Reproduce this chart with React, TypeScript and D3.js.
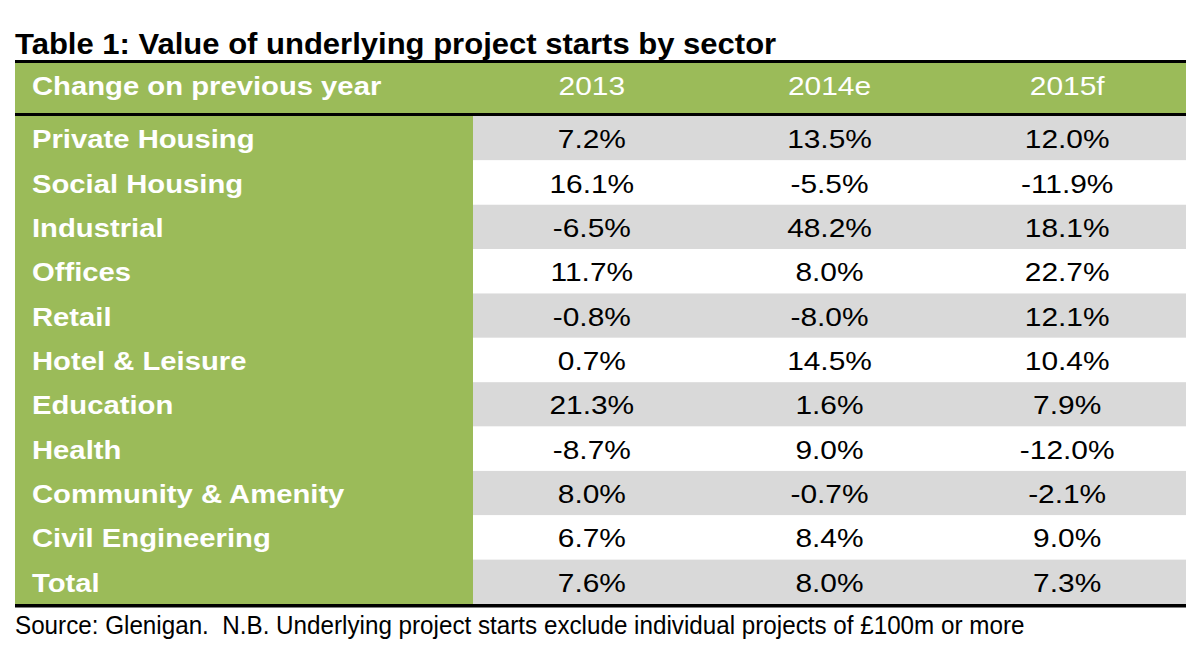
import React from "react";
import * as d3 from "d3";

const title = "Table 1: Value of underlying project starts by sector";
const headerLabel = "Change on previous year";
const columns = ["2013", "2014e", "2015f"];
const sectors = [
  "Private Housing",
  "Social Housing",
  "Industrial",
  "Offices",
  "Retail",
  "Hotel & Leisure",
  "Education",
  "Health",
  "Community & Amenity",
  "Civil Engineering",
  "Total",
];
const v2013 = [7.2, 16.1, -6.5, 11.7, -0.8, 0.7, 21.3, -8.7, 8.0, 6.7, 7.6];
const v2014e = [13.5, -5.5, 48.2, 8.0, -8.0, 14.5, 1.6, 9.0, -0.7, 8.4, 8.0];
const v2015f = [12.0, -11.9, 18.1, 22.7, 12.1, 10.4, 7.9, -12.0, -2.1, 9.0, 7.3];
const source =
  "Source: Glenigan.  N.B. Underlying project starts exclude individual projects of £100m or more";

const W = 1200;
const H = 648;
const left = 15;
const right = 1186;
const labelColEnd = 473;
const headerTop = 63;
const headerBottom = 113;
const bodyTop = 116;
const bodyBottom = 604;

const GREEN = "#9bbb59";
const GRAY = "#d9d9d9";
const FONT = "'Liberation Sans', Arial, Helvetica, sans-serif";

const locale = d3.formatLocale({
  decimal: ".",
  thousands: ",",
  grouping: [3],
  currency: ["", ""],
  minus: "-",
});
const fmt = locale.format(".1f");

function T({
  x,
  y,
  sx = 1,
  anchor = "start",
  size,
  bold = false,
  fill = "#000",
  children,
}: any) {
  return (
    <text
      transform={`translate(${x},${y}) scale(${sx},1)`}
      fontSize={size}
      fontWeight={bold ? "bold" : "normal"}
      textAnchor={anchor}
      fill={fill}
      style={{ whiteSpace: "pre" }}
    >
      {children}
    </text>
  );
}

export default function App() {
  const series = [v2013, v2014e, v2015f];
  const x = d3.scaleBand<string>().domain(columns).range([labelColEnd, right]);
  const y = d3.scaleBand<string>().domain(sectors).range([bodyTop, bodyBottom]);
  const SX = 1.15;
  const SXB = 1.125;
  const FS = 26;

  return (
    <svg
      width={W}
      height={H}
      style={{ position: "absolute", left: 0, top: 0, background: "#fff" }}
      fontFamily={FONT}
    >
      <T x={left} y={54} size={29} sx={1.07} bold>
        {title}
      </T>
      {/* header */}
      <rect x={left} y={headerTop} width={right - left} height={headerBottom - headerTop} fill={GREEN} />
      <rect x={left} y={60} width={right - left} height={3} fill="#000" />
      <rect x={left} y={headerBottom} width={right - left} height={bodyTop - headerBottom} fill="#000" />
      <T x={32} y={94.5} size={FS} sx={SXB} bold fill="#fff">
        {headerLabel}
      </T>
      {columns.map((c) => (
        <T
          key={c}
          x={(x(c) as number) + x.bandwidth() / 2}
          y={94.5}
          size={FS}
          sx={SX}
          anchor="middle"
          fill="#fff"
        >
          {c}
        </T>
      ))}
      {/* body */}
      <rect x={left} y={bodyTop} width={labelColEnd - left} height={bodyBottom - bodyTop} fill={GREEN} />
      {sectors.map((s, i) => {
        const y0 = y(s) as number;
        const cy = y0 + y.bandwidth() / 2;
        return (
          <g key={s}>
            <rect
              x={labelColEnd}
              y={y0}
              width={right - labelColEnd}
              height={y.bandwidth()}
              fill={i % 2 === 0 ? GRAY : "#fff"}
            />
            <T x={32} y={cy + 10} size={FS} sx={SXB} bold fill="#fff">
              {s}
            </T>
            {columns.map((c, j) => (
              <T
                key={c}
                x={(x(c) as number) + x.bandwidth() / 2}
                y={cy + 10}
                size={FS}
                sx={SX}
                anchor="middle"
              >
                {fmt(series[j][i]) + "%"}
              </T>
            ))}
          </g>
        );
      })}
      <rect x={left} y={bodyBottom} width={right - left} height={3.5} fill="#000" />
      <T x={left} y={633.5} size={25.5} sx={0.95}>
        {source}
      </T>
    </svg>
  );
}
